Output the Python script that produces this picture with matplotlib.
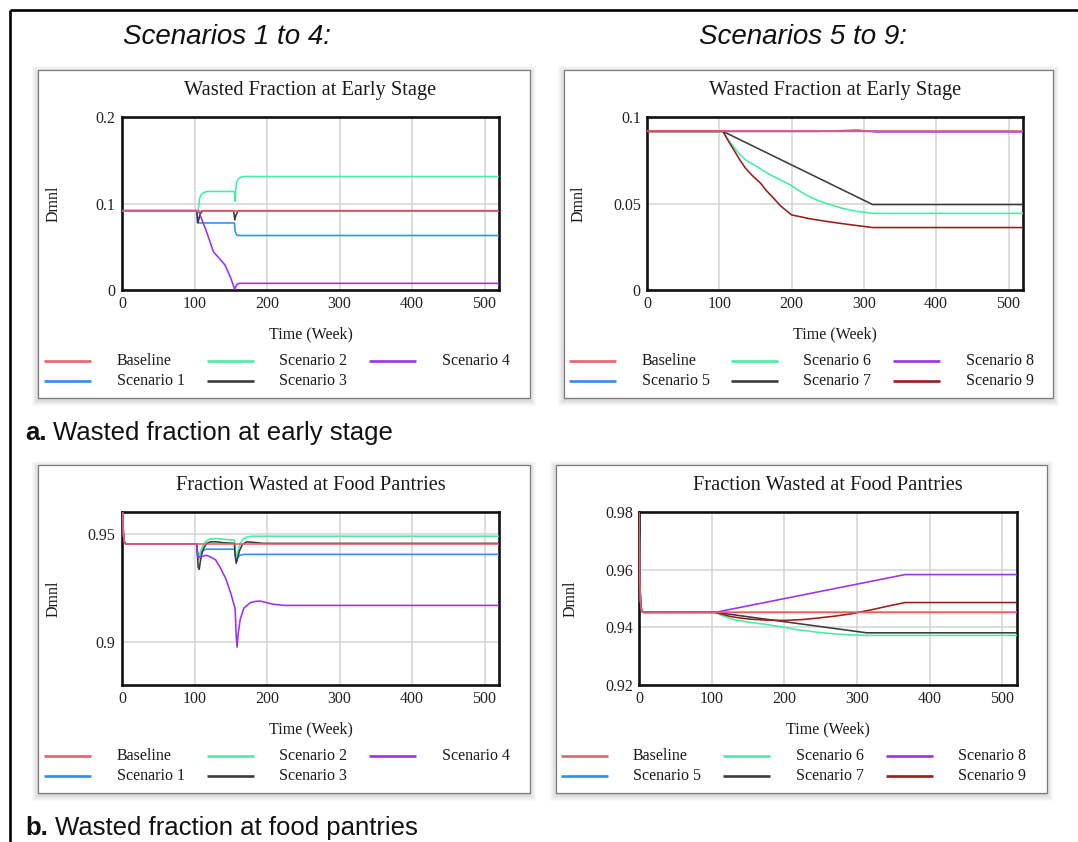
import matplotlib
matplotlib.use("Agg")
import matplotlib.pyplot as plt
from matplotlib.patches import Rectangle

W, H = 1078, 842
SERIF = "Liberation Serif"
SANS = "Liberation Sans"

# ---------------- data ----------------
x_ticks = [0, 100, 200, 300, 400, 500]
x_max = 520

early_title = "Wasted Fraction at Early Stage"
pantry_title = "Fraction Wasted at Food Pantries"

labels_a = ["Baseline", "Scenario 1", "Scenario 2", "Scenario 3", "Scenario 4"]
labels_b = ["Baseline", "Scenario 5", "Scenario 6", "Scenario 7", "Scenario 8", "Scenario 9"]
colors_a = ["#e8606c", "#2f8cf5", "#3ff0a5", "#3c3c3c", "#9b30f5"]
colors_b = ["#e8606c", "#2f8cf5", "#3ff0a5", "#3c3c3c", "#9b30f5", "#9b1c1c"]

# Wasted fraction at early stage, scenarios 1-4
e_base_t = [0, 520]
e_base_v = [0.0917, 0.0917]
e_s1_t = [0, 103, 104, 155, 156, 158, 160, 520]
e_s1_v = [0.0917, 0.0917, 0.0775, 0.0775, 0.0680, 0.0640, 0.0630, 0.0630]
e_s2_t = [0, 105, 106, 107, 109, 112, 117, 155, 156, 157, 158, 160, 163, 168, 520]
e_s2_v = [0.0917, 0.0917, 0.0980, 0.1060, 0.1100, 0.1125, 0.1139, 0.1139, 0.1025,
          0.1160, 0.1240, 0.1280, 0.1300, 0.1312, 0.1312]
e_s3_t = [0, 103, 105, 106, 108, 111, 154, 155.5, 157, 160, 520]
e_s3_v = [0.0917, 0.0917, 0.0780, 0.0820, 0.0880, 0.0917, 0.0917, 0.0810, 0.0860, 0.0917, 0.0917]
e_s4_t = [0, 105.5, 117, 126, 142, 150, 155.5, 157, 159, 162, 520]
e_s4_v = [0.0917, 0.0917, 0.0665, 0.0444, 0.0290, 0.0140, 0.0005, 0.0040, 0.0068, 0.0077, 0.0077]

# Wasted fraction at early stage, scenarios 5-9
e_s5_t = [0, 235, 260, 280, 290, 298, 306, 520]
e_s5_v = [0.0917, 0.0917, 0.0920, 0.0923, 0.0925, 0.0922, 0.0917, 0.0917]
e_s6_t = [0, 105, 112, 120, 128, 136, 150, 166, 182, 198, 210, 222, 235, 247, 260, 272, 290, 312, 520]
e_s6_v = [0.0917, 0.0917, 0.0870, 0.0826, 0.0786, 0.0753, 0.0718, 0.0676, 0.0642, 0.0608,
          0.0575, 0.0545, 0.0520, 0.0502, 0.0485, 0.0470, 0.0455, 0.0443, 0.0443]
e_s7_t = [0, 105, 312, 520]
e_s7_v = [0.0917, 0.0917, 0.0494, 0.0494]
e_s8_t = [0, 310, 316, 520]
e_s8_v = [0.0917, 0.0917, 0.0914, 0.0914]
e_s9_t = [0, 105, 112, 120, 128, 136, 146, 157, 165, 173, 185, 200, 225, 249, 280, 312, 520]
e_s9_v = [0.0917, 0.0917, 0.0865, 0.0810, 0.0755, 0.0705, 0.0660, 0.0618, 0.0575, 0.0540,
          0.0485, 0.0434, 0.0412, 0.0396, 0.0378, 0.0361, 0.0361]

# Fraction wasted at food pantries: shared start-up transient
p_start_t = [0, 1, 2, 3, 4, 6]
p_start_v = [0.980, 0.958, 0.9495, 0.9466, 0.9456, 0.9452]

p_base_t = p_start_t + [520]
p_base_v = p_start_v + [0.9452]
p_s1_t = p_start_t + [103, 104, 105.5, 107, 109, 112, 118, 155, 156.5, 158, 160, 163, 168, 520]
p_s1_v = p_start_v + [0.9452, 0.9400, 0.9380, 0.9400, 0.9415, 0.9425, 0.9428, 0.9428, 0.9400,
                      0.9385, 0.9393, 0.9400, 0.9404, 0.9404]
p_s2_t = p_start_t + [103, 104, 105.5, 107, 109, 112, 116, 121, 130, 155, 156.5, 158, 160, 163,
                      167, 172, 180, 520]
p_s2_v = p_start_v + [0.9452, 0.9420, 0.9385, 0.9400, 0.9425, 0.9445, 0.9465, 0.9475, 0.9477,
                      0.9470, 0.9420, 0.9390, 0.9420, 0.9455, 0.9475, 0.9484, 0.9488, 0.9488]
p_s3_t = p_start_t + [103, 104, 105, 106.5, 108, 110, 113, 117, 122, 130, 140, 155, 156, 157.5,
                      159, 162, 166, 172, 180, 195, 520]
p_s3_v = p_start_v + [0.9452, 0.9410, 0.9345, 0.9335, 0.9370, 0.9405, 0.9435, 0.9455, 0.9462,
                      0.9462, 0.9458, 0.9455, 0.9400, 0.9363, 0.9380, 0.9420, 0.9450, 0.9462,
                      0.9460, 0.9455, 0.9455]
p_s4_t = p_start_t + [103, 104, 105, 108, 116, 122, 129, 136, 143, 150, 156, 157.5, 158.7, 160,
                      163, 168, 177, 185, 191, 200, 209, 225, 520]
p_s4_v = p_start_v + [0.9452, 0.9420, 0.9390, 0.9393, 0.9400, 0.9392, 0.9379, 0.9340, 0.9293,
                      0.9225, 0.9153, 0.9030, 0.8975, 0.9030, 0.9103, 0.9155, 0.9181, 0.9187,
                      0.9188, 0.9180, 0.9173, 0.9168, 0.9168]

p_s5_t = p_start_t + [520]
p_s5_v = p_start_v + [0.9452]
p_s6_t = p_start_t + [105, 115, 130, 150, 175, 199.5, 220, 245.7, 270, 290, 310, 520]
p_s6_v = p_start_v + [0.9452, 0.9440, 0.9427, 0.9418, 0.9410, 0.9400, 0.9391, 0.9383, 0.9377,
                      0.9374, 0.9372, 0.9372]
p_s7_t = p_start_t + [105, 313, 520]
p_s7_v = p_start_v + [0.9452, 0.9381, 0.9381]
p_s8_t = p_start_t + [105, 366, 520]
p_s8_v = p_start_v + [0.9452, 0.9583, 0.9583]
p_s9_t = p_start_t + [105, 115, 125, 140, 155, 175, 200, 225, 245, 270, 292, 320, 345, 366, 520]
p_s9_v = p_start_v + [0.9452, 0.9445, 0.9438, 0.9432, 0.9428, 0.9425, 0.9424, 0.9427, 0.9432,
                      0.9439, 0.9447, 0.9461, 0.9475, 0.9486, 0.9486]

early_a = [(e_base_t, e_base_v), (e_s1_t, e_s1_v), (e_s2_t, e_s2_v), (e_s3_t, e_s3_v), (e_s4_t, e_s4_v)]
early_b = [(e_base_t, e_base_v), (e_s5_t, e_s5_v), (e_s6_t, e_s6_v), (e_s7_t, e_s7_v),
           (e_s8_t, e_s8_v), (e_s9_t, e_s9_v)]
pantry_a = [(p_base_t, p_base_v), (p_s1_t, p_s1_v), (p_s2_t, p_s2_v), (p_s3_t, p_s3_v), (p_s4_t, p_s4_v)]
pantry_b = [(p_base_t, p_base_v), (p_s5_t, p_s5_v), (p_s6_t, p_s6_v), (p_s7_t, p_s7_v),
            (p_s8_t, p_s8_v), (p_s9_t, p_s9_v)]

# ---------------- figure ----------------
fig = plt.figure(figsize=(W / 100, H / 100), dpi=100)
fig.patch.set_facecolor("white")
canvas = fig.add_axes([0, 0, 1, 1], zorder=0)
canvas.set_xlim(0, W)
canvas.set_ylim(H, 0)
canvas.axis("off")

# page frame
canvas.plot([10, W], [10, 10], color="black", lw=1.9, solid_capstyle="butt")
canvas.plot([10, 10], [10, H], color="black", lw=1.9, solid_capstyle="butt")


def frac(l, t, r, b):
    return [l / W, 1 - b / H, (r - l) / W, (b - t) / H]


def panel(l, t, r, b):
    for k in range(1, 8):
        canvas.add_patch(Rectangle((l - k + 1, t - k + 3), (r - l) + 2 * k - 2, (b - t) + 2 * k - 2,
                                   facecolor="black", edgecolor="none", alpha=0.022))
    canvas.add_patch(Rectangle((l, t), r - l, b - t, facecolor="white",
                               edgecolor="#7a7a7a", lw=0.9))


def chart(box, title, yticks, ylabels, ylim, series, colors):
    l, t, r, b = box
    ax = fig.add_axes(frac(l, t, r, b), zorder=2)
    ax.set_facecolor("white")
    order = list(range(1, len(series))) + [0]
    for i in order:
        tt, vv = series[i]
        ax.plot(tt, vv, color=colors[i], lw=1.15, zorder=3 if i else 4, solid_joinstyle="round")
    ax.set_xlim(0, x_max)
    ax.set_ylim(*ylim)
    ax.set_xticks(x_ticks)
    ax.set_xticklabels([str(v) for v in x_ticks])
    ax.set_yticks(yticks)
    ax.set_yticklabels(ylabels)
    ax.tick_params(length=0, pad=4.5, labelsize=11.5, labelcolor="#222222")
    for lab in ax.get_xticklabels() + ax.get_yticklabels():
        lab.set_fontfamily(SERIF)
    ax.grid(True, color="#d4d4d4", lw=1.1)
    ax.set_axisbelow(True)
    for sp in ax.spines.values():
        sp.set_linewidth(1.9)
        sp.set_color("#111111")
    ht = b - t
    wd = r - l
    ax.text(0.5, 1 + 27 / ht, title, transform=ax.transAxes, ha="center", va="center",
            fontsize=14.7, family=SERIF, color="#1a1a1a")
    ax.set_xlabel("Time (Week)", fontsize=11.5, family=SERIF, color="#1a1a1a")
    ax.xaxis.set_label_coords(0.5, -44 / ht)
    ax.xaxis.label.set_va("center")
    ax.set_ylabel("Dmnl", fontsize=11.5, family=SERIF, color="#1a1a1a")
    ax.yaxis.set_label_coords(-68 / wd, 0.5)
    ax.yaxis.label.set_va("center")
    return ax


def legend(labels, colors, hx, tx, rows):
    for i, (lab, col) in enumerate(zip(labels, colors)):
        c, rw = i // 2, i % 2
        y = rows[rw]
        canvas.plot([hx[c], hx[c] + 47], [y, y], color=col, lw=1.9, solid_capstyle="butt")
        canvas.text(tx[c], y, lab, ha="left", va="center", fontsize=11.5, family=SERIF,
                    color="#1a1a1a")


# panels
panel(38, 70, 530, 398)
panel(564, 70, 1053, 398)
panel(38, 465, 530, 793)
panel(556, 465, 1047, 793)

chart((122, 117, 499, 290), early_title, [0, 0.1, 0.2], ["0", "0.1", "0.2"], (0, 0.2),
      early_a, colors_a)
chart((647, 117, 1023, 290), early_title, [0, 0.05, 0.1], ["0", "0.05", "0.1"], (0, 0.1),
      early_b, colors_b)
chart((122, 512, 499, 685), pantry_title, [0.9, 0.95], ["0.9", "0.95"], (0.88, 0.96),
      pantry_a, colors_a)
chart((639, 512, 1017, 685), pantry_title, [0.92, 0.94, 0.96, 0.98],
      ["0.92", "0.94", "0.96", "0.98"], (0.92, 0.98), pantry_b, colors_b)

legend(labels_a, colors_a, [44, 207, 369], [117, 279, 442], [361, 381])
legend(labels_b, colors_b, [569, 731, 893], [642, 803, 966], [361, 381])
legend(labels_a, colors_a, [44, 207, 369], [117, 279, 442], [756, 776])
legend(labels_b, colors_b, [561, 723, 886], [633, 796, 958], [756, 776])

# headings
canvas.text(227, 37, "Scenarios 1 to 4:", ha="center", va="center", fontsize=20,
            style="italic", family=SANS, color="#111111")
canvas.text(699, 37, "Scenarios 5 to 9:", ha="left", va="center", fontsize=20,
            style="italic", family=SANS, color="#111111")
canvas.text(25, 433, "a.", ha="left", va="center", fontsize=18.5, weight="bold",
            family=SANS, color="#111111")
canvas.text(53, 433, "Wasted fraction at early stage", ha="left", va="center", fontsize=18.5,
            family=SANS, color="#111111")
canvas.text(25, 828, "b.", ha="left", va="center", fontsize=18.5, weight="bold",
            family=SANS, color="#111111")
canvas.text(55, 828, "Wasted fraction at food pantries", ha="left", va="center", fontsize=18.5,
            family=SANS, color="#111111")

fig.savefig("out.png", dpi=100, facecolor="white")
